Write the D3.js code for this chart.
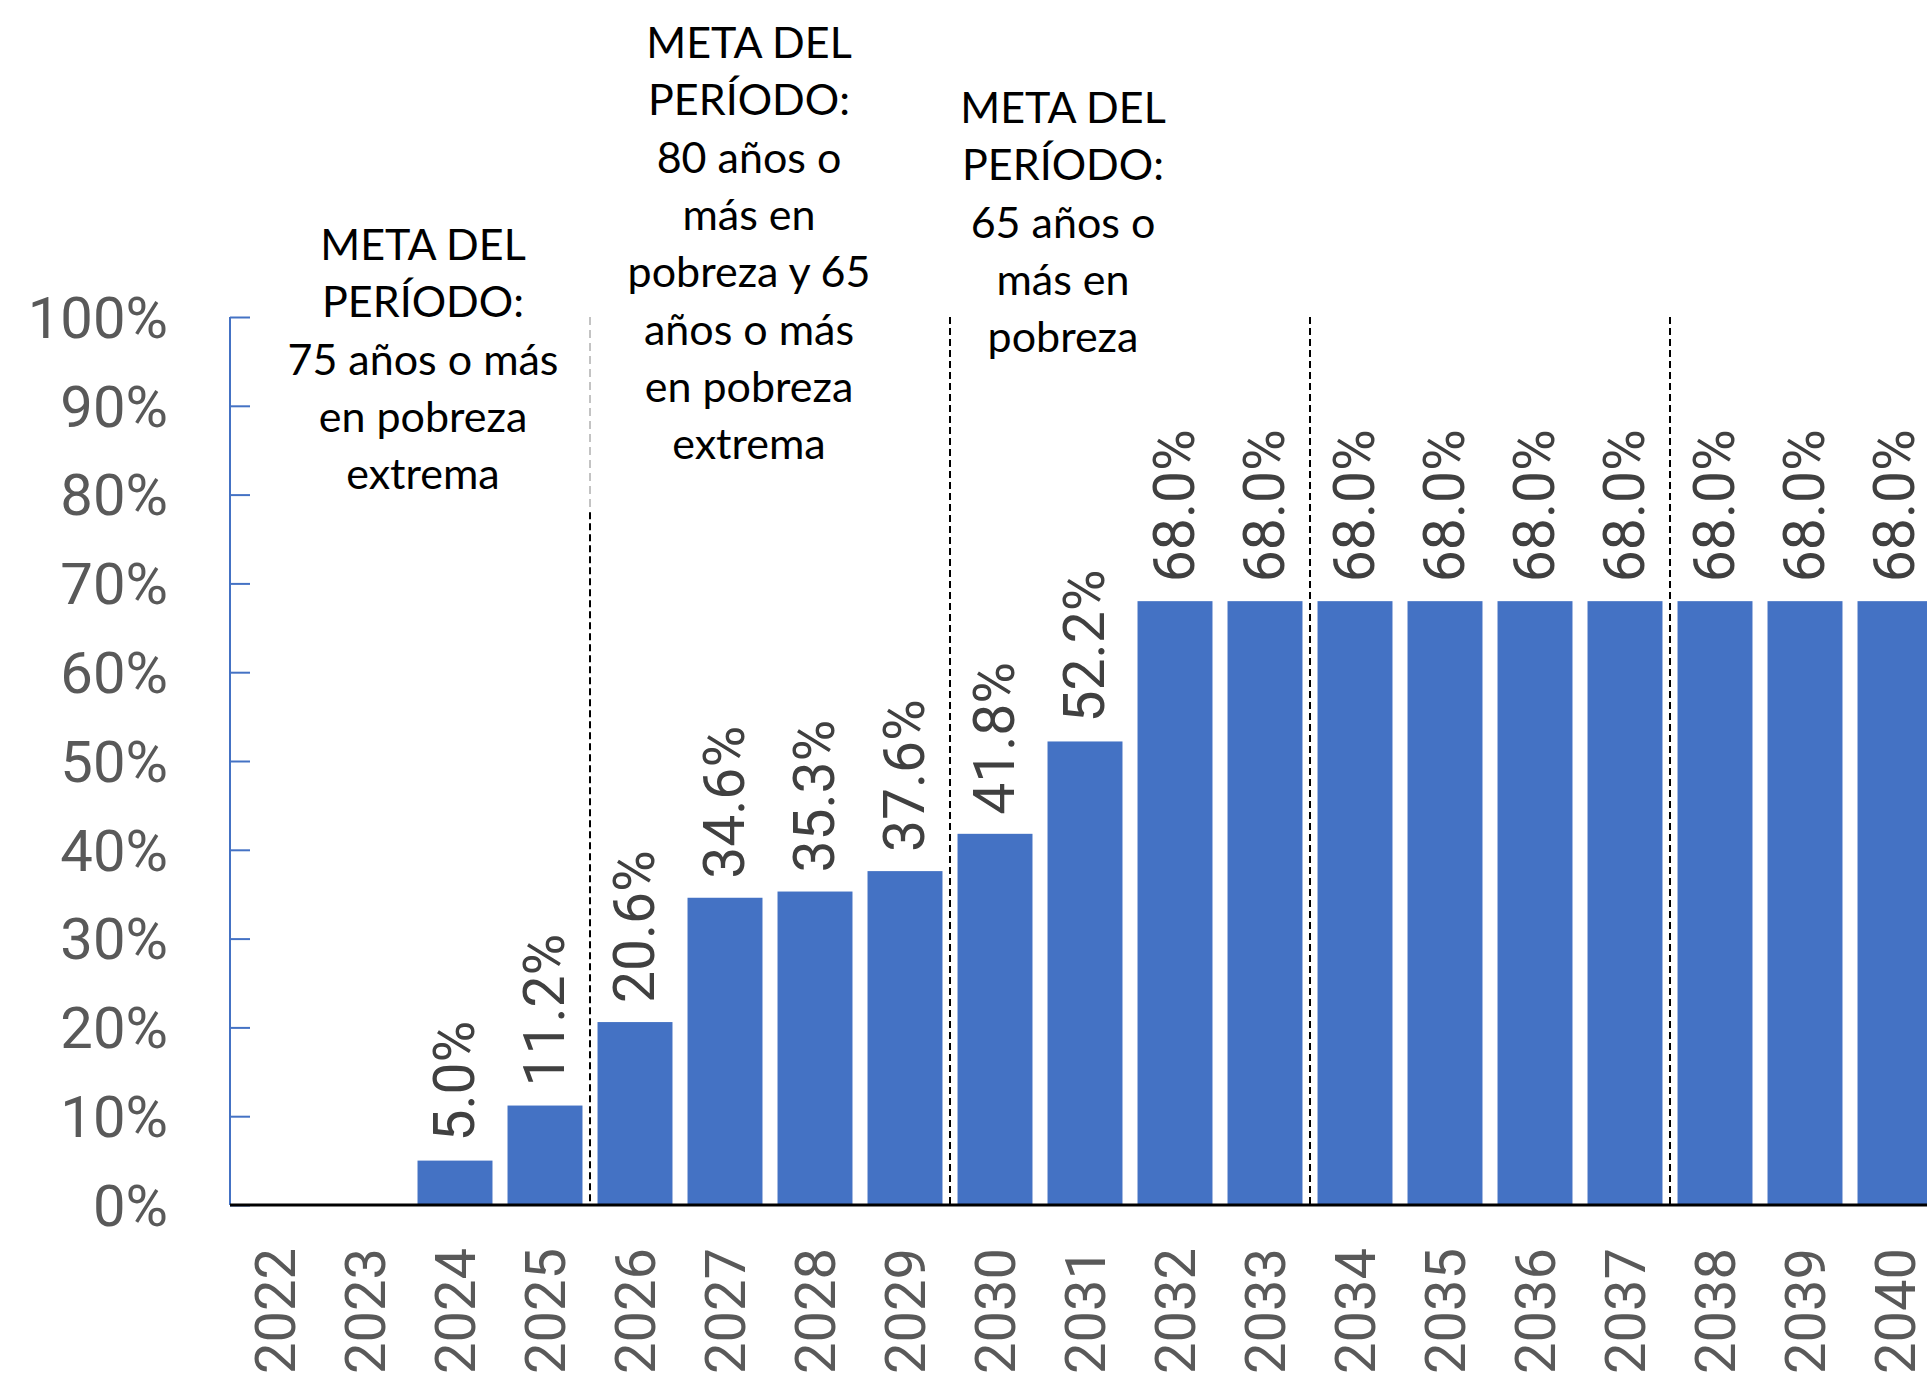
<!DOCTYPE html>
<html>
<head>
<meta charset="utf-8">
<script src="https://cdn.jsdelivr.net/npm/d3@7"></script>
<style>
  body { margin: 0; background: #fff; }
  svg { display: block; }
</style>
</head>
<body>
<script>
// categories and values (percent)
let years = ['2022', '2023', '2024', '2025', '2026', '2027', '2028', '2029', '2030', '2031',
  '2032', '2033', '2034', '2035', '2036', '2037', '2038', '2039', '2040'];
let values = [null, null, 5.0, 11.2, 20.6, 34.6, 35.3, 37.6, 41.8, 52.2,
  68.0, 68.0, 68.0, 68.0, 68.0, 68.0, 68.0, 68.0, 68.0];
let yTicks = [0, 10, 20, 30, 40, 50, 60, 70, 80, 90, 100];
// first year of each new period -> dashed divider before it
let periodStarts = ['2026', '2030', '2034', '2038'];

let note1 = ['META DEL', 'PERÍODO:', '75 años o más', 'en pobreza', 'extrema'];
let note2 = ['META DEL', 'PERÍODO:', '80 años o', 'más en', 'pobreza y 65', 'años o más', 'en pobreza', 'extrema'];
let note3 = ['META DEL', 'PERÍODO:', '65 años o', 'más en', 'pobreza'];

let W = 1927, H = 1376;
let margin = {left: 230, top: 317, right: -13, bottom: 171};
let width = W - margin.left - margin.right;
let height = H - margin.top - margin.bottom;

let svg = d3.select('body').append('svg')
  .attr('width', W)
  .attr('height', H);

let x = d3.scaleBand().domain(years).range([0, width]).paddingInner(0.167).paddingOuter(0.0835);
let y = d3.scaleLinear().domain([0, 100]).range([height, 0]);

let g = svg.append('g')
  .attr('transform', 'translate(' + margin.left + ',' + margin.top + ')');

// bars
let data = years.map((yr, i) => ({year: yr, value: values[i]}));
g.append('g')
  .selectAll('rect')
  .data(data.filter(d => d.value !== null))
  .join('rect')
  .attr('x', d => x(d.year))
  .attr('y', d => y(d.value))
  .attr('width', x.bandwidth())
  .attr('height', d => y(0) - y(d.value))
  .attr('fill', '#4472C4');

// dashed period dividers
let gap = x.step() * x.paddingInner() / 2;
periodStarts.forEach((yr, i) => {
  let xx = x(yr) - gap;
  if (i === 0) {
    // upper part sits under the text box, drawn faint
    g.append('line').attr('x1', xx).attr('x2', xx).attr('y1', y(100)).attr('y2', y(78))
      .attr('stroke', '#b0b0b0').attr('stroke-width', 1.5).attr('stroke-dasharray', '8,5');
    g.append('line').attr('x1', xx).attr('x2', xx).attr('y1', y(78)).attr('y2', y(0))
      .attr('stroke', '#000').attr('stroke-width', 2).attr('stroke-dasharray', '7,4');
  } else {
    g.append('line').attr('x1', xx).attr('x2', xx).attr('y1', y(100)).attr('y2', y(0))
      .attr('stroke', '#000').attr('stroke-width', 2).attr('stroke-dasharray', '7,4');
  }
});

// y axis
let yAxis = g.append('g')
  .call(d3.axisRight(y).tickValues(yTicks).tickSize(20).tickFormat(''));
yAxis.select('.domain').attr('stroke', '#4472C4').attr('stroke-width', 2)
  .attr('d', 'M0,' + y(100) + 'V' + y(0));
yAxis.selectAll('.tick line').attr('stroke', '#4472C4').attr('stroke-width', 2);

g.append('g')
  .selectAll('text')
  .data(yTicks)
  .join('text')
  .attr('x', -62)
  .attr('y', d => y(d))
  .attr('dy', '0.36em')
  .attr('text-anchor', 'end')
  .attr('font-family', 'Roboto')
  .attr('font-size', 58)
  .attr('fill', '#595959')
  .text(d => d + '%');

// x axis baseline
g.append('line')
  .attr('x1', 0).attr('x2', width)
  .attr('y1', y(0)).attr('y2', y(0))
  .attr('stroke', '#000').attr('stroke-width', 3);

// year labels, rotated
g.append('g')
  .selectAll('text')
  .data(years)
  .join('text')
  .attr('transform', d => 'translate(' + (x(d) + x.bandwidth() / 2) + ',' + (y(0) + 43) + ') rotate(-90)')
  .attr('dy', '0.36em')
  .attr('text-anchor', 'end')
  .attr('font-family', 'Roboto')
  .attr('font-size', 56)
  .attr('fill', '#595959')
  .text(d => d);

// value labels, rotated
g.append('g')
  .selectAll('text')
  .data(data.filter(d => d.value !== null))
  .join('text')
  .attr('transform', d => 'translate(' + (x(d.year) + x.bandwidth() / 2 - 2) + ',' + (y(d.value) - 19) + ') rotate(-90)')
  .attr('dy', '0.36em')
  .attr('text-anchor', 'start')
  .attr('font-family', 'Roboto')
  .attr('font-size', 57)
  .attr('fill', '#404040')
  .text(d => d.value.toFixed(1) + '%');

// period goal notes
function note(lines, cx, top) {
  svg.append('text')
    .attr('text-anchor', 'middle')
    .attr('font-family', 'Lato')
    .attr('font-size', 43)
    .attr('fill', '#000')
    .selectAll('tspan')
    .data(lines)
    .join('tspan')
    .attr('x', cx)
    .attr('y', (d, i) => top + i * 57.3)
    .text(d => d);
}
note(note1, 423, 260);
note(note2, 749, 58);
note(note3, 1063, 123);
</script>
</body>
</html>
